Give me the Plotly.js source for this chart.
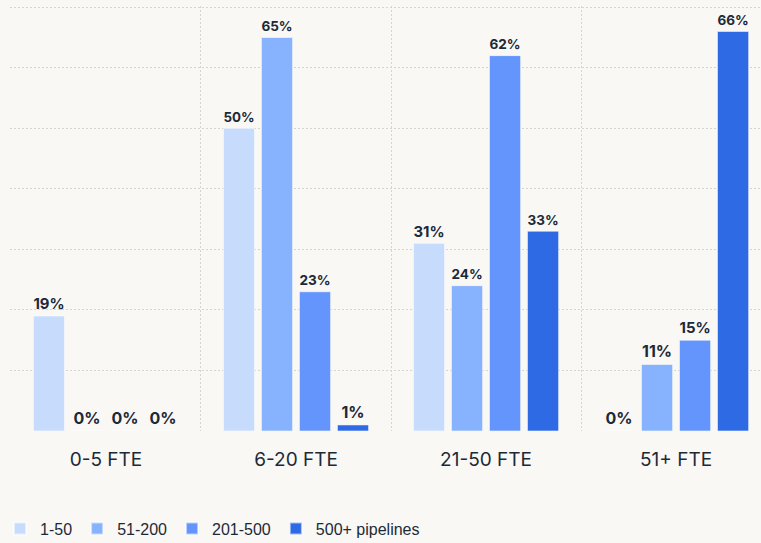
<!DOCTYPE html>
<html>
<head>
<meta charset="utf-8">
<script src="https://cdn.plot.ly/plotly-3.0.1.min.js"></script>
<style>html,body{margin:0;padding:0;background:#f9f8f5;}#chart{width:761px;height:543px;}</style>
</head>
<body>
<div id="chart"></div>
<script>
const categories = ["0-5 FTE", "6-20 FTE", "21-50 FTE", "51+ FTE"];
const seriesNames = ["1-50", "51-200", "201-500", "500+ pipelines"];
const s1_50 = [19, 50, 31, 0];
const s51_200 = [0, 65, 24, 11];
const s201_500 = [0, 23, 62, 15];
const s500plus = [0, 1, 33, 66];
const seriesValues = [s1_50, s51_200, s201_500, s500plus];
const colors = ["#c7dcfc", "#86b2fe", "#6495fd", "#2f6ae5"];

const traces = seriesValues.map((vals, i) => ({
  type: "bar",
  name: seriesNames[i],
  x: categories,
  y: vals,
  marker: {color: colors[i], line: {color: "rgba(255,255,255,0.55)", width: 1}},
  text: vals.map(v => v + "%"),
  texttemplate: "%{text}",
  textposition: "outside",
  cliponaxis: false,
  textfont: {family: "Inter, Roboto, sans-serif", size: 16, color: "#1c2a38", weight: 700},
  hoverinfo: "skip"
}));

const layout = {
  width: 761, height: 543,
  paper_bgcolor: "#f9f8f5", plot_bgcolor: "#f9f8f5",
  margin: {l: 10, r: 0, t: 6, b: 112},
  barmode: "group",
  bargap: 0.2,
  bargroupgap: 0.18,
  xaxis: {
    type: "category",
    range: [-0.505, 3.447],
    tickson: "boundaries",
    showgrid: true, gridcolor: "#d6d5d2", griddash: "2px,2px", gridwidth: 1,
    ticks: "", zeroline: false, showline: false,
    tickfont: {family: "Inter, Roboto, sans-serif", size: 19, color: "#1c2a38"},
    ticklabelstandoff: 15
  },
  yaxis: {
    range: [0, 70.2], dtick: 10,
    showgrid: true, gridcolor: "#d6d5d2", griddash: "2px,2px", gridwidth: 1,
    showticklabels: false, zeroline: false, ticks: "", showline: false
  },
  showlegend: true,
  legend: {
    orientation: "h", xref: "container", yref: "container",
    x: -0.004, y: 0.058, xanchor: "left", yanchor: "top",
    font: {family: "'Liberation Sans', Arial, sans-serif", size: 16, color: "#1c2a38"},
    bgcolor: "rgba(0,0,0,0)", traceorder: "normal", itemsizing: "constant"
  },
  font: {family: "Inter, sans-serif"}
};

Plotly.newPlot("chart", traces, layout, {displayModeBar: false, staticPlot: true});
</script>
</body>
</html>
